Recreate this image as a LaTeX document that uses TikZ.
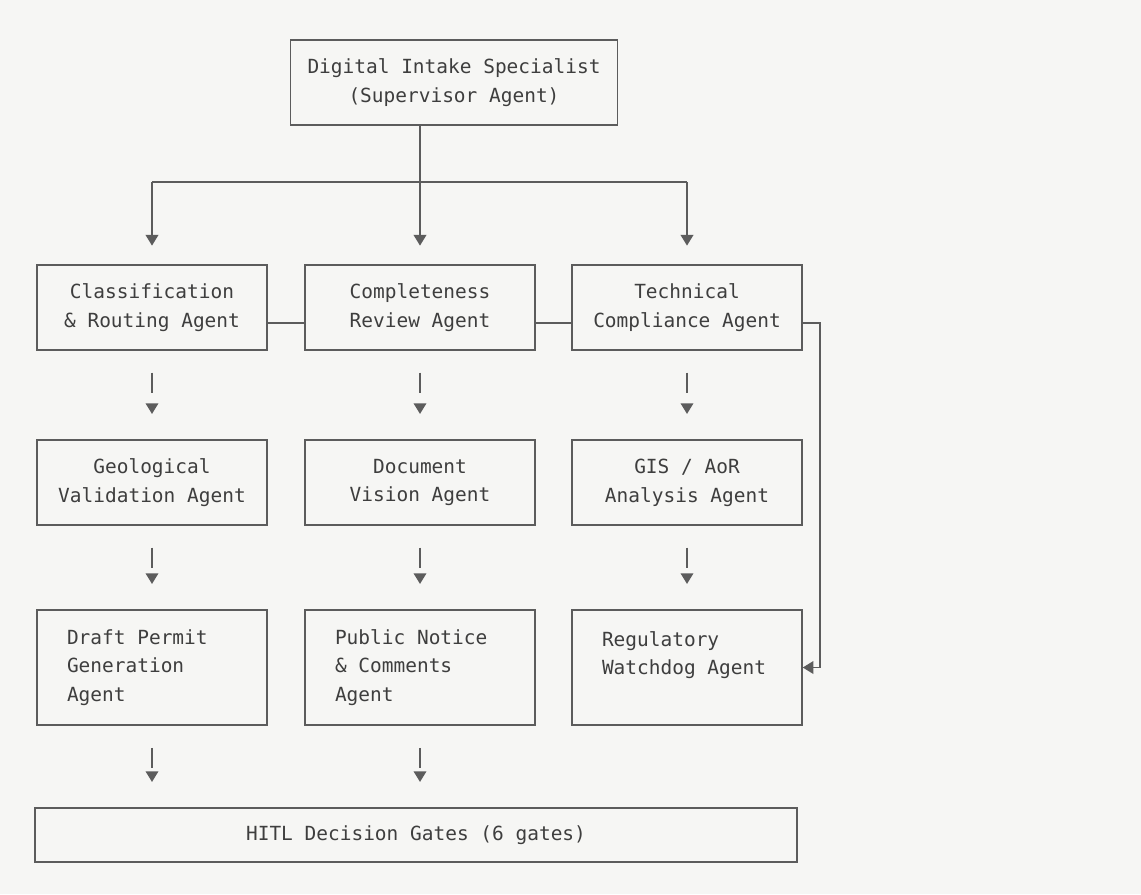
\documentclass[tikz,border=0pt]{standalone}
\usepackage{fontspec}
\setmonofont{DejaVu Sans Mono}
\usetikzlibrary{arrows.meta,positioning}
\definecolor{paper}{HTML}{F6F6F4}
\definecolor{ink}{HTML}{5C5C5C}
\definecolor{txt}{HTML}{3E3E3E}
\newcommand\agentfont{\ttfamily\fontsize{14.6}{21.6}\selectfont}
\tikzset{
    agent/.style={draw=ink, line width=1.1pt, inner sep=0pt, minimum width=172.5pt, minimum height=63.75pt, text=txt, font=\agentfont, align=center},
    tall/.style={minimum height=86.25pt, text width=127.5pt, align=flush left},
    link/.style={draw=ink, line width=1.1pt},
    flow/.style={link, -{Triangle[width=9.5pt,length=8pt]}},
    gapflow/.style={flow, dash pattern=on 15pt off 200pt, dash phase=198.5pt, shorten >=19pt}
}
\begin{document}
\begin{tikzpicture}[x=0.75pt,y=-0.75pt]
    \fill[paper] (0,0) rectangle (1141,894);
    \useasboundingbox (0,0) rectangle (1141,894);
    \node[agent, minimum width=245pt] (sup) at (454,82.5) {Digital Intake Specialist\\(Supervisor Agent)};
    \node[agent] (A1) at (152,307.5) {Classification\\\& Routing Agent};
    \node[agent] (B1) at (420,307.5) {Completeness\\Review Agent};
    \node[agent] (C1) at (687,307.5) {Technical\\Compliance Agent};
    \node[agent] (A2) at (152,482.5) {Geological\\Validation Agent};
    \node[agent] (B2) at (420,482.5) {Document\\Vision Agent};
    \node[agent] (C2) at (687,482.5) {GIS / AoR\\Analysis Agent};
    \node[agent, tall] (A3) at (152,667.5) {Draft Permit\\Generation\\Agent};
    \node[agent, tall] (B3) at (420,667.5) {Public Notice\\\& Comments\\Agent};
    \node[agent, tall] (C3) at (687,667.5) {Regulatory\\Watchdog Agent\\~};
    \node[agent, minimum width=571.5pt, minimum height=40.5pt] (hitl) at (416,835) {HITL Decision Gates (6 gates)};
    \coordinate (bar) at (0,182);
    \draw[flow, shorten >=14pt] (B1 |- sup.south) -- (B1.north);
    \draw[link] (bar -| A1) -- (bar -| C1);
    \foreach \c in {A,C} {
        \draw[flow, shorten >=14pt] (bar -| \c1) -- (\c1.north);
    }
    \foreach \c in {A,B,C} {
        \draw[gapflow] (\c1.south) -- (\c2.north);
        \draw[gapflow] (\c2.south) -- (\c3.north);
    }
    \foreach \c in {A,B} {
        \draw[gapflow] (\c3.south) -- (\c3.south |- hitl.north);
    }
    \draw[link] ([yshift=-11.6pt]A1.east) -- ([yshift=-11.6pt]B1.west);
    \draw[link] ([yshift=-11.6pt]B1.east) -- ([yshift=-11.6pt]C1.west);
    \draw[flow] ([yshift=-11.6pt]C1.east) -- ++(13pt,0) |- (C3.east);
\end{tikzpicture}
\end{document}
